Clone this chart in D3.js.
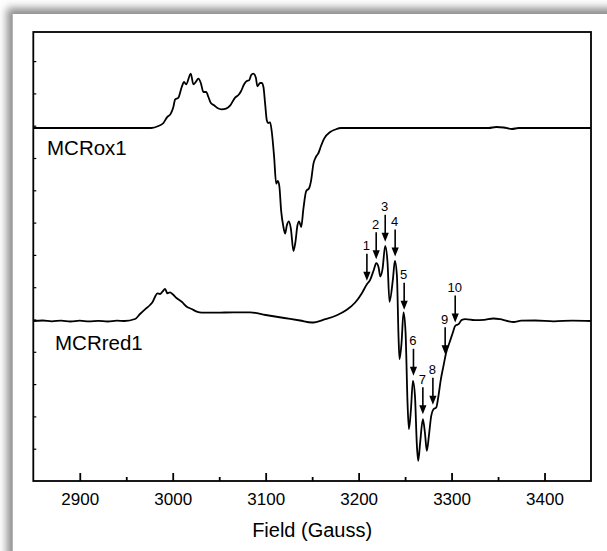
<!DOCTYPE html>
<html>
<head>
<meta charset="utf-8">
<script src="https://cdn.jsdelivr.net/npm/d3@7"></script>
<style>
  body { margin: 0; background: #fff; }
  svg { display: block; font-family: "Liberation Sans", Arial, sans-serif; }
</style>
</head>
<body>
<svg width="607" height="551"></svg>
<script>
// Field axis ticks (Gauss)
const fieldTicks = [2900, 3000, 3100, 3200, 3300, 3400];
const fieldMinor = [2950, 3050, 3150, 3250, 3350];
// unlabeled intensity ticks (arbitrary units)
const intensityTicks = [32.3, 64.6, 96.9, 129.2, 161.5, 193.8, 226.1, 258.4, 290.7, 323, 355.3, 387.6, 419.9];

// MCRox1 spectrum, signal relative to its baseline
const oxOffset = 353;
const oxField = [2850, 2977, 2984.6, 2990, 2993.6, 2997.9, 3000.7, 3002.5, 3006.1, 3009.7,
  3012.2, 3014.4, 3019.4, 3022.2, 3024.8, 3027.6, 3030.2, 3033, 3035.9, 3038.4,
  3041, 3044.5, 3048.1, 3052.8, 3057.4, 3061.7, 3067.1, 3070.7, 3073.6, 3076.8,
  3079.7, 3082.2, 3084.3, 3086.8, 3089.4, 3091.1, 3094, 3095.8, 3097.6, 3099.4,
  3101.2, 3102.6, 3104.8, 3106.6, 3109.1, 3111.3, 3113.1, 3114.8, 3116.6, 3119.1,
  3120.9, 3122.8, 3124.9, 3127.1, 3129.9, 3132, 3134.2, 3136, 3138.2, 3140.6,
  3143.5, 3146.8, 3148.9, 3151.4, 3154, 3156.8, 3159.4, 3162.9, 3169.4, 3175,
  3181, 3340, 3348, 3356, 3365, 3372, 3450];
const oxSignal = [0, 0, 2, 5, 10.4, 14.4, 21, 28.4, 30.4, 41,
  46, 43.7, 54.4, 43.7, 46, 49.4, 45, 36, 36, 31,
  25, 22.7, 20, 18.7, 19.4, 22.4, 30.4, 33, 37, 43.7,
  47, 47.7, 52.7, 54.4, 50.4, 41.7, 45, 45, 41, 24.4,
  7.7, 5, 5.7, -4, -29, -55.6, -53, -59, -82.3, -99,
  -105.6, -97.3, -93.3, -100.6, -123, -114, -97.3, -93.3, -99, -80.6,
  -63.3, -60, -52.3, -35.6, -29, -25, -18.3, -10.6, -4, -1.5,
  0, 0, 1, 0.5, -1, 0, 0];

// MCRred1 spectrum
const redOffset = 160;
const redField = [2850, 2860, 2870, 2880, 2890, 2900, 2910, 2920, 2930, 2940,
  2948, 2959.5, 2964.8, 2970.2, 2975.6, 2978.5, 2981, 2983.5, 2986.4, 2988.9,
  2991.8, 2994.2, 2997.1, 3000, 3004.4, 3009.7, 3015.1, 3020.5, 3025.9, 3031.3,
  3047.4, 3065.3, 3083.3, 3100, 3120, 3137, 3149.7, 3164, 3176.6, 3187.3,
  3196.3, 3203.5, 3208.9, 3212.4, 3216, 3219, 3221.5, 3223.3, 3225.7, 3228.6,
  3231.1, 3233.2, 3236.9, 3239, 3241.2, 3242.9, 3244, 3246.2, 3248.3, 3250.5,
  3252.6, 3254.1, 3256.3, 3258.4, 3260.6, 3262.7, 3264.1, 3266.2, 3269.1, 3271.3,
  3273.4, 3275.6, 3278.1, 3280.5, 3283.5, 3285.9, 3288.5, 3291.3, 3294.2, 3297.8,
  3301.4, 3303.9, 3307.5, 3311.1, 3314.7, 3325, 3335, 3345, 3352, 3360,
  3366.7, 3375, 3390, 3410, 3430, 3450];
const redSignal = [0, 0.5, -0.3, 0.4, -0.5, 0.3, -0.4, 0.2, -0.5, 0.3,
  0, 2, 7, 11.7, 16, 19.3, 24.3, 27.7, 27, 29.3,
  32, 27.7, 28.7, 26.7, 22.7, 19.3, 14.3, 12, 9.3, 8.3,
  8.3, 8.7, 8.7, 6, 3, 0.5, -1.5, 1.8, 5.8, 11.2,
  18.5, 27.8, 36.8, 41.2, 50.2, 57.8, 53.5, 44.5, 51.8, 75.2,
  58.5, 19.2, 41.8, 60.2, 45.2, -14.8, -38.2, -21.5, 8.5, -11.5,
  -81.5, -108.2, -88.2, -59.8, -74.8, -124.8, -139.8, -121.5, -98.2, -111.5,
  -129.8, -114.8, -94.8, -88.2, -86.5, -74.8, -58.2, -44.8, -31.5, -21.5,
  -11.5, -4.8, -3.2, 1.2, 1.8, 0.8, 1.2, 2.5, 1.8, 0,
  -1, 0.3, 0.5, -0.3, 0.4, 0];

// numbered hyperfine lines on MCRred1 (arrow tip, relative to red baseline)
const peakLabels = ["1", "2", "3", "4", "5", "6", "7", "8", "9", "10"];
const peakField = [3208.9, 3218.9, 3228.6, 3239.3, 3249, 3259, 3269.1, 3279.9, 3293.1, 3303.9];
const peakSignal = [40.2, 61.8, 79.2, 64.5, 11.2, -54.8, -93.2, -83.8, -33.2, -1.5];

const svg = d3.select("svg");

// card with soft shadow on top/left
const defs = svg.append("defs");
defs.append("filter")
    .attr("id", "shadow")
    .attr("x", "-10%").attr("y", "-10%")
    .attr("width", "130%").attr("height", "130%")
  .append("feGaussianBlur")
    .attr("stdDeviation", 4);

svg.append("rect")
    .attr("x", 7).attr("y", 8)
    .attr("width", 700).attr("height", 700)
    .attr("fill", "#8a8a8a")
    .attr("filter", "url(#shadow)");

svg.append("rect")
    .attr("x", 12.7).attr("y", 14)
    .attr("width", 700).attr("height", 700)
    .attr("fill", "#fff");

// scales
const x = d3.scaleLinear()
    .domain([2850, 3450])
    .range([33.3, 591]);

const y = d3.scaleLinear()
    .domain([0, 449])
    .range([481, 32]);

// x axis, inward ticks
svg.append("g")
    .attr("transform", `translate(0,${y(0)})`)
    .call(d3.axisBottom(x).tickValues(fieldTicks).tickSize(-8).tickPadding(12).tickFormat(d3.format("d")))
    .call(g => g.select(".domain").remove())
    .call(g => g.selectAll(".tick line").attr("stroke-width", 1.8))
    .call(g => g.selectAll(".tick text")
        .style("font-size", "17px")
        .style("font-family", "'Liberation Sans', Arial, sans-serif"));

svg.append("g")
    .attr("transform", `translate(0,${y(0)})`)
    .call(d3.axisBottom(x).tickValues(fieldMinor).tickSize(-4).tickFormat(""))
    .call(g => g.select(".domain").remove())
    .call(g => g.selectAll(".tick line").attr("stroke-width", 1.8));

// y axis, no labels
svg.append("g")
    .attr("transform", `translate(${x(2850)},0)`)
    .call(d3.axisLeft(y).tickValues(intensityTicks).tickSize(-3).tickFormat(""))
    .call(g => g.select(".domain").remove())
    .call(g => g.selectAll(".tick line").attr("stroke-width", 1.2));

// plot frame
svg.append("rect")
    .attr("x", x(2850))
    .attr("y", y(449))
    .attr("width", x(3450) - x(2850))
    .attr("height", y(0) - y(449))
    .attr("fill", "none")
    .attr("stroke", "#000")
    .attr("stroke-width", 1.8);

// x axis label
svg.append("text")
    .attr("x", (x(2850) + x(3450)) / 2)
    .attr("y", 537)
    .attr("text-anchor", "middle")
    .style("font-size", "20px")
    .text("Field (Gauss)");

// spectra
const oxData = oxField.map((f, i) => [f, oxSignal[i] + oxOffset]);
const redData = redField.map((f, i) => [f, redSignal[i] + redOffset]);

const line = d3.line()
    .x(d => x(d[0]))
    .y(d => y(d[1]))
    .curve(d3.curveMonotoneX);

[oxData, redData].forEach(data => {
    svg.append("path")
        .datum(data)
        .attr("fill", "none")
        .attr("stroke", "#000")
        .attr("stroke-width", 1.8)
        .attr("stroke-linejoin", "round")
        .attr("d", line);
});

// spectrum names
svg.append("text")
    .attr("x", 47)
    .attr("y", 155)
    .style("font-size", "20.5px")
    .text("MCRox1");

svg.append("text")
    .attr("x", 55)
    .attr("y", 350)
    .style("font-size", "20.5px")
    .text("MCRred1");

// numbered arrows
const arrowLen = 27, headLen = 9, headHalf = 3.6;
const arrows = svg.append("g");
peakLabels.forEach((lab, i) => {
    const ax = x(peakField[i]);
    const tip = y(peakSignal[i] + redOffset);
    arrows.append("line")
        .attr("x1", ax).attr("x2", ax)
        .attr("y1", tip - arrowLen).attr("y2", tip - headLen + 1)
        .attr("stroke", "#000")
        .attr("stroke-width", 1.6);
    arrows.append("path")
        .attr("d", `M${ax},${tip}L${ax - headHalf},${tip - headLen}L${ax + headHalf},${tip - headLen}Z`)
        .attr("fill", "#000");
    arrows.append("text")
        .attr("x", ax - 0.5)
        .attr("y", tip - arrowLen - 3.5)
        .attr("text-anchor", "middle")
        .style("font-size", "13px")
        .text(lab);
});
</script>
</body>
</html>
